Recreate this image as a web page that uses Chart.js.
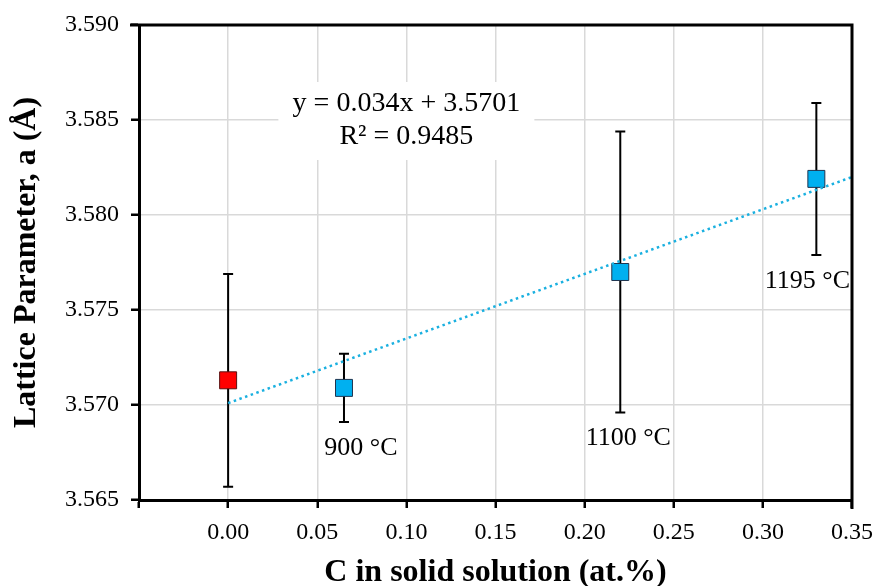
<!DOCTYPE html>
<html>
<head>
<meta charset="utf-8">
<script src="https://cdn.jsdelivr.net/npm/chart.js@4.4.0/dist/chart.umd.min.js"></script>
<style>
  html, body { margin:0; padding:0; background:#fff; }
  #wrap { width:873px; height:586px; }
</style>
</head>
<body>
<div id="wrap"><canvas id="c" width="873" height="586"></canvas></div>
<script>
// ---- data ----
const refX = [0.00];
const refY = [3.5713];
const refErr = [0.0056];

const sampleX = [0.065, 0.22, 0.33];
const sampleY = [3.5709, 3.5770, 3.5819];
const sampleErr = [0.0018, 0.0074, 0.0040];
const sampleLabels = ['900 °C', '1100 °C', '1195 °C'];
const labelShiftX = [17, 8, -9];

const fitSlope = 0.034;
const fitIntercept = 3.5701;
const fitRange = [0, 0.35];
const fitText = ['y = 0.034x + 3.5701', 'R² = 0.9485'];

const xTicks = [0.00, 0.05, 0.10, 0.15, 0.20, 0.25, 0.30, 0.35];
const yTicks = [3.565, 3.570, 3.575, 3.580, 3.585, 3.590];

const SERIF = '"Liberation Serif", "Times New Roman", serif';

/** error bars + point labels */
const errorBars = {
  id: 'errorBars',
  beforeDatasetsDraw(chart) {
    const {ctx, scales:{x, y}} = chart;
    const draw = (xs, ys, es) => xs.forEach((v, i) => {
      const px = x.getPixelForValue(v);
      const top = y.getPixelForValue(ys[i] + es[i]);
      const bot = y.getPixelForValue(ys[i] - es[i]);
      ctx.save();
      ctx.strokeStyle = '#000'; ctx.lineWidth = 2;
      ctx.beginPath();
      ctx.moveTo(px, top); ctx.lineTo(px, bot);
      ctx.moveTo(px - 5, top); ctx.lineTo(px + 5, top);
      ctx.moveTo(px - 5, bot); ctx.lineTo(px + 5, bot);
      ctx.stroke();
      ctx.restore();
    });
    draw(refX, refY, refErr);
    draw(sampleX, sampleY, sampleErr);
  },
  afterDatasetsDraw(chart) {
    const {ctx, scales:{x, y}} = chart;
    ctx.save();
    ctx.font = '26px ' + SERIF;
    ctx.fillStyle = '#000';
    ctx.textAlign = 'center';
    ctx.textBaseline = 'middle';
    sampleX.forEach((v, i) => {
      const px = x.getPixelForValue(v) + labelShiftX[i];
      const py = y.getPixelForValue(sampleY[i] - sampleErr[i]) + 26;
      ctx.fillText(sampleLabels[i], px, py);
    });
    ctx.restore();
  }
};

/** trendline equation box + frame */
const frame = {
  id: 'frame',
  beforeDatasetsDraw(chart) {
    const {ctx, scales:{x, y}} = chart;
    const cx = x.getPixelForValue(0.10);
    const cy = y.getPixelForValue(3.5850);
    ctx.save();
    ctx.fillStyle = '#fff';
    ctx.fillRect(cx - 128, cy - 38, 256, 78);
    ctx.font = '28px ' + SERIF;
    ctx.fillStyle = '#000';
    ctx.textAlign = 'center';
    ctx.textBaseline = 'middle';
    ctx.fillText(fitText[0], cx, cy - 16);
    ctx.fillText(fitText[1], cx, cy + 17);
    ctx.restore();
  },
  afterDraw(chart) {
    const {ctx, chartArea:a} = chart;
    ctx.save();
    ctx.strokeStyle = '#000'; ctx.lineWidth = 3;
    ctx.beginPath();
    ctx.moveTo(a.left - 9, a.top); ctx.lineTo(a.right, a.top); ctx.lineTo(a.right, a.bottom + 9);
    ctx.stroke();
    ctx.restore();
  }
};

new Chart(document.getElementById('c'), {
  type: 'scatter',
  data: {
    datasets: [
      {
        type: 'line',
        data: fitRange.map(v => ({x: v, y: fitSlope * v + fitIntercept})),
        borderColor: '#1ab0e0', borderWidth: 2.5, borderDash: [2.5, 3.5],
        pointRadius: 0, fill: false
      },
      {
        data: refX.map((v, i) => ({x: v, y: refY[i]})),
        pointStyle: 'rect', pointRadius: 12,
        backgroundColor: '#ff0000', borderColor: '#5a1010', borderWidth: 1
      },
      {
        data: sampleX.map((v, i) => ({x: v, y: sampleY[i]})),
        pointStyle: 'rect', pointRadius: 12,
        backgroundColor: '#00b0f0', borderColor: '#1f3550', borderWidth: 1
      }
    ]
  },
  options: {
    responsive: false, animation: false,
    layout: { padding: { top: 25, right: 21, left: 0, bottom: 0 } },
    plugins: { legend: { display: false }, tooltip: { enabled: false } },
    scales: {
      x: {
        type: 'linear', min: -0.05, max: 0.35,
        afterBuildTicks: s => { s.ticks = [-0.05, ...xTicks].map(v => ({value: v})); },
        afterFit: s => { s.height = 86; s.paddingLeft = 0; s.paddingRight = 0; },
        border: { color: '#000', width: 3 },
        grid: {
          color: c => (c.tick && c.tick.value > -0.04 && c.tick.value < 0.34) ? '#d9d9d9' : 'rgba(0,0,0,0)',
          lineWidth: 1.5, tickColor: '#000', tickWidth: 2.5, tickLength: 8
        },
        ticks: {
          color: '#000', font: { family: SERIF, size: 24 }, padding: 10, maxRotation: 0,
          callback: v => v < -0.001 ? '' : v.toFixed(2)
        },
        title: {
          display: true, text: 'C in solid solution (at.%)', color: '#000',
          font: { family: SERIF, size: 32, weight: 'bold' }, padding: { top: 0, bottom: -6 }
        }
      },
      y: {
        type: 'linear', min: 3.565, max: 3.590,
        afterBuildTicks: s => { s.ticks = yTicks.map(v => ({value: v})); },
        afterFit: s => { s.width = 139; s.paddingTop = 0; s.paddingBottom = 0; },
        border: { color: '#000', width: 3 },
        grid: {
          color: c => (c.tick && c.tick.value > 3.566 && c.tick.value < 3.589) ? '#d9d9d9' : 'rgba(0,0,0,0)',
          lineWidth: 1.5, tickColor: '#000', tickWidth: 2.5, tickLength: 8
        },
        ticks: {
          color: '#000', font: { family: SERIF, size: 24 }, padding: 12,
          callback: v => v.toFixed(3)
        },
        title: {
          display: true, text: 'Lattice Parameter, a (Å)', color: '#000',
          font: { family: SERIF, size: 32, weight: 'bold' }, padding: { top: 8, bottom: 0 }
        }
      }
    }
  },
  plugins: [errorBars, frame]
});
</script>
</body>
</html>
